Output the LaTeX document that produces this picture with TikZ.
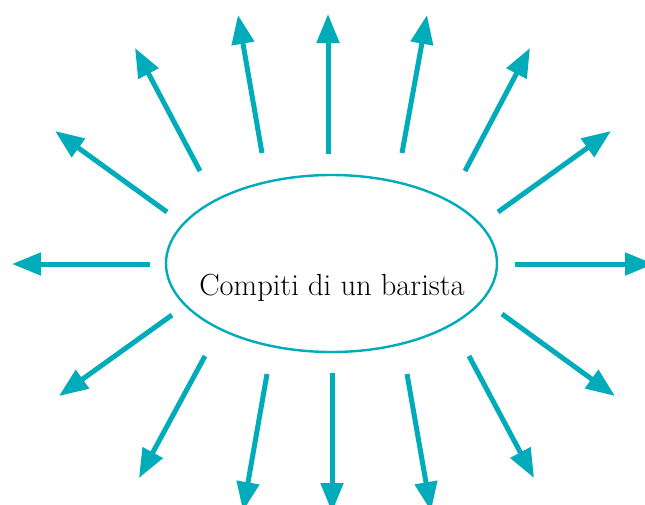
\documentclass[tikz,border=0pt]{standalone}
\usetikzlibrary{arrows.meta,shapes.geometric}
\definecolor{teal1}{RGB}{0,171,186}
\begin{document}
\begin{tikzpicture}[x=1pt,y=-1pt,
  ray/.style={draw=teal1,line width=5pt,-{Triangle[length=29pt,width=22pt]},fill=teal1},
  hub/.style={ellipse,draw=teal1,line width=2.4pt,minimum width=331pt,minimum height=177pt,inner sep=0pt},
  lbl/.style={anchor=base,inner sep=0pt,font=\fontsize{30.5}{36}\selectfont}]
\useasboundingbox (0,0) rectangle (645,504);
\clip (0,0) rectangle (645,504);
\node[hub] (c) at (331.5,263.5) {};
\node[lbl] (t) at (332,295) {Compiti di un barista};
\foreach \i/\sx/\sy/\tx/\ty in {
  1/328/154/328/14,
  2/402/153/427/15,
  3/465/171/530/48,
  4/498/212/611/131,
  5/515/264/654/264,
  6/502/314/615/396,
  7/469/356/534/478,
  8/407/374/431/511,
  9/332/373/332/512,
  10/267/374/243/511,
  11/205/356/139/478,
  12/172/315/59/396,
  13/150/264/12/264,
  14/167/212/55/131,
  15/200/171/135/48,
  16/262/153/238/15}{
  \coordinate (s\i) at (\sx,\sy);
  \coordinate (e\i) at (\tx,\ty);
  \draw[ray] (s\i) -- (e\i);
}
\end{tikzpicture}
\end{document}
